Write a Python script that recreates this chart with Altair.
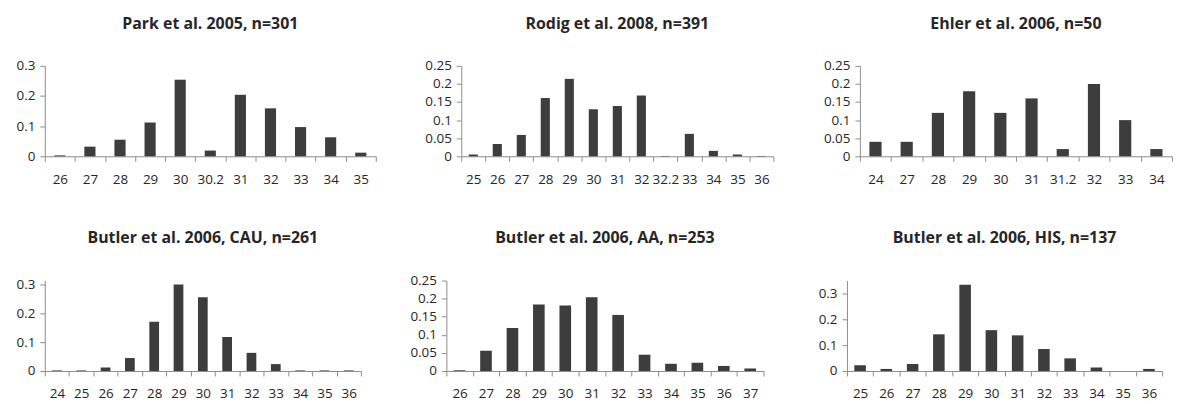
import altair as alt
import pandas as pd

# ---- data ----
park_cats = ["26", "27", "28", "29", "30", "30.2", "31", "32", "33", "34", "35"]
park_vals = [0.003, 0.032, 0.055, 0.112, 0.254, 0.019, 0.204, 0.159, 0.097, 0.063, 0.012]

rodig_cats = ["25", "26", "27", "28", "29", "30", "31", "32", "32.2", "33", "34", "35", "36"]
rodig_vals = [0.005, 0.034, 0.059, 0.161, 0.214, 0.130, 0.139, 0.168, 0.001, 0.062, 0.015, 0.005, 0.001]

ehler_cats = ["24", "27", "28", "29", "30", "31", "31.2", "32", "33", "34"]
ehler_vals = [0.04, 0.04, 0.12, 0.18, 0.12, 0.16, 0.02, 0.20, 0.10, 0.02]

cau_cats = ["24", "25", "26", "27", "28", "29", "30", "31", "32", "33", "34", "35", "36"]
cau_vals = [0.002, 0.002, 0.012, 0.045, 0.171, 0.300, 0.256, 0.118, 0.063, 0.024, 0.002, 0.002, 0.002]

aa_cats = ["26", "27", "28", "29", "30", "31", "32", "33", "34", "35", "36", "37"]
aa_vals = [0.002, 0.056, 0.119, 0.184, 0.181, 0.204, 0.155, 0.045, 0.020, 0.023, 0.014, 0.007]

his_cats = ["25", "26", "27", "28", "29", "30", "31", "32", "33", "34", "35", "36"]
his_vals = [0.022, 0.008, 0.027, 0.142, 0.334, 0.158, 0.138, 0.085, 0.049, 0.014, 0.0, 0.008]

titles = [
    "Park et al. 2005, n=301",
    "Rodig et al. 2008, n=391",
    "Ehler et al. 2006, n=50",
    "Butler et al. 2006, CAU, n=261",
    "Butler et al. 2006, AA, n=253",
    "Butler et al. 2006, HIS, n=137",
]

yt_03 = [0, 0.1, 0.2, 0.3]
yt_025 = [0, 0.05, 0.1, 0.15, 0.2, 0.25]

FONT = "Open Sans"
BAR = "#3d3d3d"
AXIS = "#8c8c8c"
TXT = "#262626"
H = 91


def panel(title, cats, vals, width, ymax, yticks, ext, frac):
    df = pd.DataFrame({"cat": cats, "val": vals})
    bars = (
        alt.Chart(df)
        .mark_bar(width=alt.RelativeBandSize(frac), color=BAR)
        .encode(
            x=alt.X(
                "cat:N",
                sort=cats,
                scale=alt.Scale(paddingInner=0, paddingOuter=0),
                axis=alt.Axis(
                    title=None, labelAngle=0, tickBand="extent", tickSize=5,
                    labelPadding=11, labelFont=FONT, labelFontSize=13.5,
                    labelColor=TXT, domainColor=AXIS, tickColor=AXIS,
                    labelOverlap=False,
                ),
            ),
            y=alt.Y(
                "val:Q",
                scale=alt.Scale(domain=[0, ymax], nice=False, zero=True),
                axis=alt.Axis(
                    title=None, values=yticks, format=".2~f", grid=False,
                    tickSize=5, labelPadding=5, labelFont=FONT, labelFontSize=13.5,
                    labelColor=TXT, domainColor=AXIS, tickColor=AXIS,
                    minExtent=ext, maxExtent=ext,
                ),
            ),
        )
    )
    ttl = (
        alt.Chart(pd.DataFrame({"t": [title]}))
        .mark_text(font=FONT, fontSize=16, fontWeight="bold", color=TXT,
                   baseline="alphabetic", align="center")
        .encode(x=alt.value(width / 2), y=alt.value(-37.5), text="t:N")
    )
    return alt.layer(bars, ttl).properties(width=width, height=H)


p1 = panel(titles[0], park_cats, park_vals, 333, 0.3, yt_03, 37, 0.37)
p2 = panel(titles[1], rodig_cats, rodig_vals, 314, 0.25, yt_025, 55, 0.38)
p3 = panel(titles[2], ehler_cats, ehler_vals, 314, 0.25, yt_025, 56, 0.39)
p4 = panel(titles[3], cau_cats, cau_vals, 318, 0.314, yt_03, 37, 0.40)
p5 = panel(titles[4], aa_cats, aa_vals, 319, 0.25, yt_025, 55, 0.44)
p6 = panel(titles[5], his_cats, his_vals, 317, 0.35, yt_03, 53, 0.44)

row1 = alt.hconcat(p1, p2, p3, spacing=30)
row2 = alt.hconcat(p4, p5, p6, spacing=30)

chart = (
    alt.vconcat(row1, row2, spacing=44)
    .properties(padding={"left": 0, "top": 6, "right": 0, "bottom": 0})
    .configure_view(strokeWidth=0)
    .configure_concat(spacing=30)
)

chart.save("out.html", embed_options={"renderer": "svg", "actions": False})
